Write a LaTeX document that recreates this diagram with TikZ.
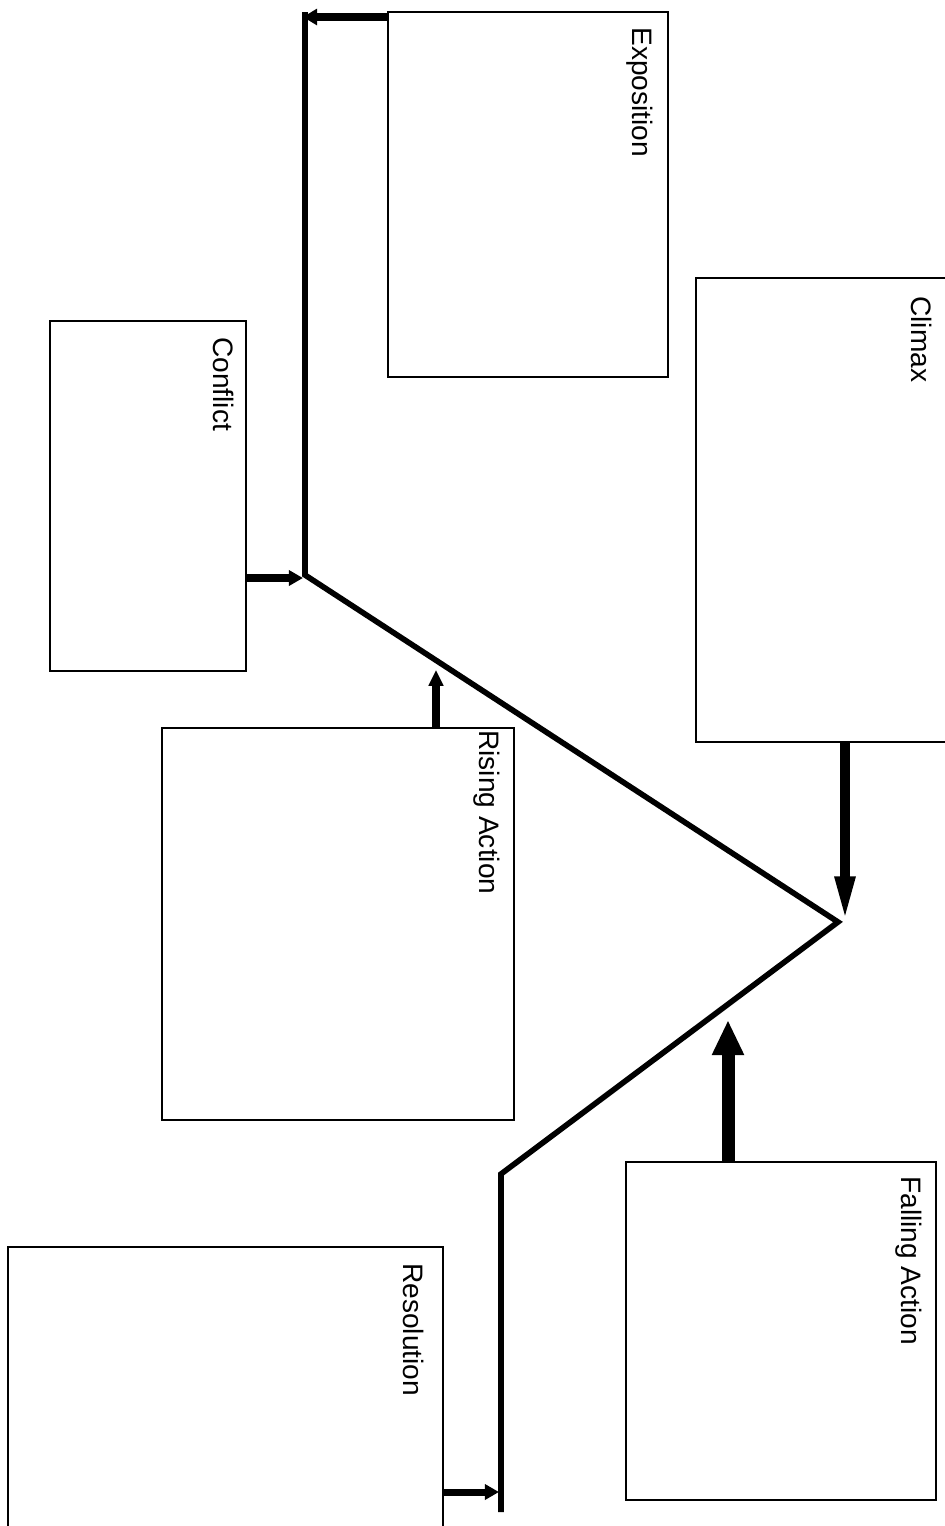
\documentclass[tikz,border=0pt]{standalone}
\usepackage{fontspec}
\setmainfont{Liberation Sans}
\usepackage{tikz}
\usetikzlibrary{arrows.meta,positioning,calc}

\tikzset{
  box/.style={draw, line width=1pt, rectangle, inner sep=0pt},
  tag/.style={rotate=-90, inner sep=0pt, anchor=north west, font=\fontsize{16}{18}\selectfont},
  plotline/.style={line width=3.2pt, line join=miter},
  conn/.style={line width=4pt, -{Triangle[length=8pt,width=8.5pt]}}
}

\begin{document}
\begin{tikzpicture}[x=0.02cm,y=-0.02cm]
\useasboundingbox (0,0) rectangle (945,1526);

% story line
\coordinate (start) at (305,12);
\coordinate (conflictpt) at (305,575);
\coordinate (peak) at (838,922);
\coordinate (turn) at (501,1174);
\coordinate (finish) at (501,1512);
\draw[plotline] (start) -- (conflictpt) -- (peak) -- (turn) -- (finish);

% boxes
\node at (528,194.5) [box, minimum width=5.6cm, minimum height=7.3cm] (expo) {};
\node at (823,510) [box, minimum width=5.08cm, minimum height=9.28cm] (clim) {};
\node at (148,496) [box, minimum width=3.92cm, minimum height=7cm] (conf) {};
\node at (338,924) [box, minimum width=7.04cm, minimum height=7.84cm] (rise) {};
\node at (781,1331) [box, minimum width=6.2cm, minimum height=6.76cm] (fall) {};
\node at (225.5,1393.5) [box, minimum width=8.7cm, minimum height=5.86cm] (reso) {};

% labels
\node[tag] (expotag) at (653,27) {Exposition};
\node[tag] (climtag) at (932,296) {Climax};
\node[tag] (conftag) at (234,337) {Conflict};
\node[tag] (risetag) at (500,730) {Rising Action};
\node[tag] (falltag) at (922,1176) {Falling Action};
\node[tag] (resotag) at (424,1263) {Resolution};

% connectors
\coordinate (expohit) at (303,17);
\coordinate (confhit) at (303,578);
\coordinate (risehit) at (436,670);
\coordinate (climhit) at (845,922);
\coordinate (fallhit) at (728,1020);
\coordinate (resohit) at (499,1492);
\draw[conn, -{Triangle[length=8pt,width=9pt]}] (expo.west |- expohit) -- (expohit);
\draw[conn] (conf.east |- confhit) -- (confhit);
\draw[conn, -{Triangle[length=9pt,width=8pt]}] (rise.north -| risehit) -- (risehit);
\draw[conn, line width=5.4pt, -{Triangle[length=26pt,width=10.5pt]}] (clim.south -| climhit) -- (climhit);
\draw[conn, line width=7.4pt, -{Triangle[length=20pt,width=17pt]}] (fall.north -| fallhit) -- (fallhit);
\draw[conn] (reso.east |- resohit) -- (resohit);

\end{tikzpicture}
\end{document}
